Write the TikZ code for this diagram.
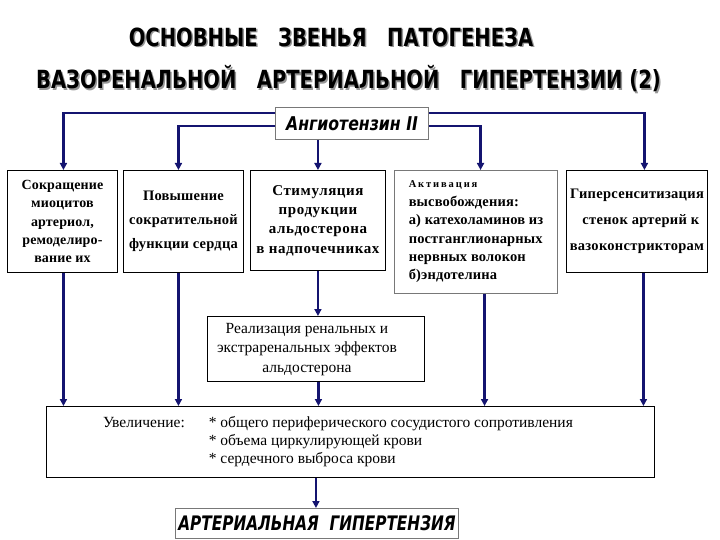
\documentclass[tikz,border=0pt]{standalone}
\usepackage{fontspec}
\usepackage{graphicx}
\setmainfont{Liberation Serif}
\newfontfamily\tfont{DejaVu Sans Condensed}
\usetikzlibrary{arrows.meta,calc}
\definecolor{navy}{RGB}{20,20,112}
\definecolor{shade}{RGB}{150,150,150}
\newcommand\squeezetxt[2]{\scalebox{#1}[1]{#2}}
\tikzset{
  box/.style={draw=black, line width=0.9pt, fill=white, inner sep=0pt, anchor=north west},
  gbox/.style={box, draw=shade!80!black, line width=1.1pt},
  conn/.style={draw=navy, line width=2.6pt, -{Triangle[length=7pt,width=7pt]}},
  topt/.style={align=center},
  titletext/.style={font=\tfont\bfseries\fontsize{25}{28}\selectfont},
}
\begin{document}
\begin{tikzpicture}[x=1pt,y=-1pt]
\useasboundingbox (0,0) rectangle (720,540);
% titles with shadow
\node[titletext, text=shade] (t1s) at (332.5,38.5) {\squeezetxt{0.87}{ОСНОВНЫЕ\ \ \ ЗВЕНЬЯ\ \ \ ПАТОГЕНЕЗА}};
\node[titletext] (t1) at (331,37) {\squeezetxt{0.87}{ОСНОВНЫЕ\ \ \ ЗВЕНЬЯ\ \ \ ПАТОГЕНЕЗА}};
\node[titletext, text=shade] (t2s) at (350,80.5) {\squeezetxt{0.87}{ВАЗОРЕНАЛЬНОЙ\ \ \ АРТЕРИАЛЬНОЙ\ \ \ ГИПЕРТЕНЗИИ (2)}};
\node[titletext] (t2) at (348.5,79) {\squeezetxt{0.87}{ВАЗОРЕНАЛЬНОЙ\ \ \ АРТЕРИАЛЬНОЙ\ \ \ ГИПЕРТЕНЗИИ (2)}};

% Angiotensin box
\node[gbox, minimum width=153pt, minimum height=32pt, font=\tfont\bfseries\itshape\fontsize{19}{22}\selectfont] (ang) at (275,107) {\squeezetxt{0.92}{Ангиотензин II}};

% top boxes
\node[box, minimum width=110pt, minimum height=102pt, topt, font=\fontsize{14}{18.3}\selectfont\bfseries\addfontfeatures{LetterSpace=1}] (b1) at (7,170)
  {Сокращение\\миоцитов\\артериол,\\ремоделиро-\\вание их};
\node[box, minimum width=120pt, minimum height=102pt, topt, font=\fontsize{14.5}{24}\selectfont\bfseries\addfontfeatures{LetterSpace=1.5}] (b2) at (123,170)
  {Повышение\\сократительной\\функции сердца};
\node[box, minimum width=135pt, minimum height=100pt, topt, font=\fontsize{15}{19.3}\selectfont\bfseries\addfontfeatures{LetterSpace=4}] (b3) at (250,170)
  {Стимуляция\\продукции\\альдостерона\\в надпочечниках};
\node[gbox, minimum width=163pt, minimum height=123pt, font=\fontsize{14.5}{18.4}\selectfont\bfseries\addfontfeatures{LetterSpace=1}, align=left] (b4) at (394,170)
  {{\fontsize{10.5}{18.4}\selectfont\addfontfeatures{LetterSpace=18}Активация}\\высвобождения:\\а) катехоламинов из\\постганглионарных\\нервных волокон\\б)эндотелина};
\node[box, minimum width=141pt, minimum height=102pt, topt, font=\fontsize{14.5}{26}\selectfont\bfseries\addfontfeatures{LetterSpace=2}] (b5) at (566,170)
  {Гиперсенситизация\\\ \ стенок артерий к\\вазоконстрикторам};

% middle box
\node[box, minimum width=217pt, minimum height=65pt, font=\fontsize{15.5}{19.5}\selectfont] (mid) at (207,316)
  {\hspace*{-18pt}\begin{tabular}{@{}c@{}}Реализация ренальных и\\экстраренальных эффектов\\альдостерона\end{tabular}};

% big box
\node[box, minimum width=608pt, minimum height=71pt, font=\fontsize{15.5}{18}\selectfont] (big) at (46,406)
  {\hspace*{-25pt}\begin{tabular}{@{}l@{\hspace{24pt}}l@{}}
   Увеличение: & * общего периферического сосудистого сопротивления\\
   & * объема циркулирующей крови\\
   & * сердечного выброса крови
   \end{tabular}};

% final box
\node[gbox, minimum width=283pt, minimum height=30pt, font=\tfont\bfseries\itshape\fontsize{20}{22}\selectfont] (fin) at (175,508)
  {\squeezetxt{0.85}{АРТЕРИАЛЬНАЯ\ \ ГИПЕРТЕНЗИЯ}};

% connectors from angiotensin
\draw[conn] ([yshift=-6pt]ang.north west) -| ([xshift=1pt]b1.north);
\draw[conn] ([yshift=-6pt]ang.north east) -| ([xshift=7.5pt]b5.north);
\draw[conn] ([yshift=-19pt]ang.north west) -| ([xshift=-5pt]b2.north);
\draw[conn] ([yshift=-19pt]ang.north east) -| ([xshift=4.5pt]b4.north);
\draw[conn] (b3.north |- ang.south) -- (b3.north);

% connectors down
\draw[conn] ([xshift=1pt]b1.south) -- ([xshift=1pt]b1.south |- big.north);
\draw[conn] ([xshift=-5pt]b2.south) -- ([xshift=-5pt]b2.south |- big.north);
\draw[conn] (b3.south) -- (b3.south |- mid.north);
\draw[conn] ([xshift=2.5pt]mid.south) -- ([xshift=2.5pt]mid.south |- big.north);
\draw[conn] ([xshift=8.5pt]b4.south) -- ([xshift=8.5pt]b4.south |- big.north);
\draw[conn] ([xshift=6.5pt]b5.south) -- ([xshift=6.5pt]b5.south |- big.north);
\draw[conn] (big.south -| mid.south) -- (fin.north -| mid.south);
\end{tikzpicture}
\end{document}
